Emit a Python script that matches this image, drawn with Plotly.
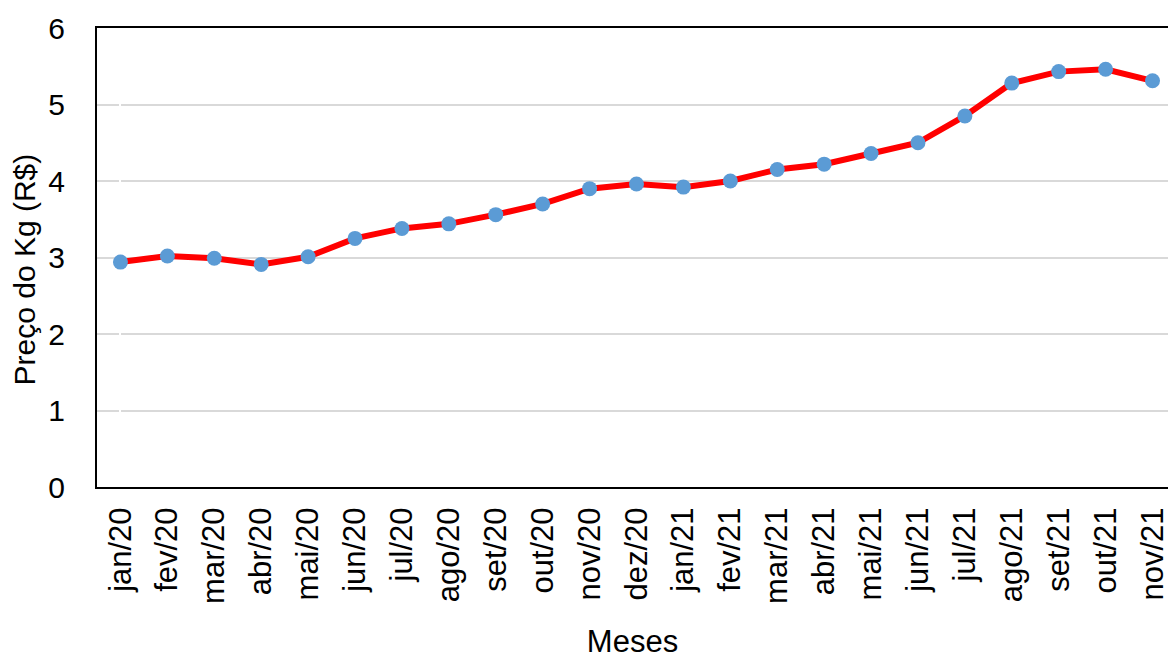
import plotly.graph_objects as go

# Monthly average price per kilogram (R$)
meses = ["jan/20", "fev/20", "mar/20", "abr/20", "mai/20", "jun/20", "jul/20",
         "ago/20", "set/20", "out/20", "nov/20", "dez/20", "jan/21", "fev/21",
         "mar/21", "abr/21", "mai/21", "jun/21", "jul/21", "ago/21", "set/21",
         "out/21", "nov/21"]
precos = [2.94, 3.02, 2.99, 2.91, 3.01, 3.25, 3.38, 3.44, 3.56, 3.70, 3.90,
          3.96, 3.92, 4.00, 4.15, 4.22, 4.36, 4.50, 4.85, 5.28, 5.43, 5.46, 5.31]
y_ticks = [0, 1, 2, 3, 4, 5, 6]

FONT = "Liberation Sans, Arial, sans-serif"

fig = go.Figure(
    go.Scatter(
        x=list(range(len(meses))),
        y=precos,
        mode="lines+markers",
        line=dict(color="#FF0000", width=6),
        marker=dict(color="#5B9BD5", size=15, line=dict(width=0)),
        hoverinfo="x+y",
    )
)

fig.update_layout(
    width=1170,
    height=659,
    margin=dict(l=97, r=0, t=28, b=170),
    paper_bgcolor="white",
    plot_bgcolor="white",
    showlegend=False,
    font=dict(family=FONT, color="black"),
)

fig.update_xaxes(
    tickmode="array",
    tickvals=list(range(len(meses))),
    ticktext=meses,
    tickangle=-90,
    tickfont=dict(size=31),
    ticklabeloverflow="allow",
    range=[-0.5, 22.33],
    showgrid=False,
    showline=True,
    linecolor="black",
    linewidth=2,
    mirror=True,
    ticks="",
    ticklabelstandoff=6,
    title=dict(text="Meses", font=dict(size=31), standoff=33),
)

fig.update_yaxes(
    range=[0, 6],
    tickmode="array",
    tickvals=y_ticks,
    tickfont=dict(size=30),
    showgrid=True,
    gridcolor="#D9D9D9",
    gridwidth=2,
    showline=True,
    linecolor="black",
    linewidth=2,
    zeroline=False,
    ticks="",
    ticklabelstandoff=24,
)

# Vertical axis title placed as an annotation for finer positioning
fig.add_annotation(
    text="Preço do Kg (R$)",
    textangle=-90,
    font=dict(size=30, family=FONT, color="black"),
    xref="paper", yref="paper",
    x=0, y=0.5,
    xanchor="center", yanchor="middle",
    xshift=-73, yshift=-12,
    showarrow=False,
)

fig.write_html("out.html")
